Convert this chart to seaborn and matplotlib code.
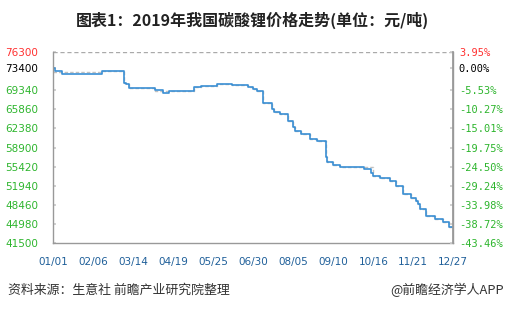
import matplotlib
matplotlib.use("Agg")
import matplotlib.pyplot as plt
import seaborn as sns
import pandas as pd
import numpy as np

sns.set_theme(style="white")
plt.rcParams['font.family'] = ['Noto Sans CJK SC', 'DejaVu Sans']

# ---- data ----
step_days = [0, 1.3, 8, 43.5, 63.6, 65.4, 68, 91.5, 98.5, 104.4, 127, 133, 147, 160.6,
             175.5, 180, 183, 188.5, 196.6, 198.6, 204, 211.5, 216, 217.5, 222.7, 231,
             237, 245, 246.4, 252, 258, 280, 286, 287.5, 294, 303, 308.5, 315, 321.7,
             326.5, 328.5, 330, 335.5, 343.5, 351, 356.5, 360]
price = [73400, 72950, 72350, 72830, 70740, 70450, 69830, 69410, 68800, 69280, 70010,
         70190, 70450, 70270, 69900, 69540, 69280, 66980, 65880, 65440, 65020, 63740,
         62590, 61910, 61370, 60400, 60090, 57220, 56300, 55700, 55330, 54910, 54290,
         53690, 53270, 52770, 51860, 50400, 49610, 49170, 48510, 47600, 46380, 45770,
         45330, 44310, 44310]
ref_price = [72750, 72750, 72750, 72830, 70740, 70450, 69830, 69230, 69230, 69230, 70010,
             70190, 70450, 70270, 69900, 69540, 69280, 66980, 65880, 65440, 65020, 63740,
             62590, 61910, 61370, 60400, 60090, 57220, 56300, 55700, 55330, 55330, 55330,
             53690, 53270, 52770, 51860, 50400, 49610, 49170, 48510, 47600, 46380, 45770,
             45330, 44310, 44310]
base_price = 73400
y_ticks = [41500, 44980, 48460, 51940, 55420, 58900, 62380, 65860, 69340, 73400, 76300]
x_tick_days = [0, 36, 72, 108, 144, 180, 216, 252, 288, 324, 360]
x_tick_labels = ["01/01", "02/06", "03/14", "04/19", "05/25", "06/30",
                 "08/05", "09/10", "10/16", "11/21", "12/27"]

df = pd.DataFrame({"day": step_days, "price": price, "ref": ref_price})

fig = plt.figure(figsize=(5.05, 3.11), dpi=100)
ax = fig.add_axes([0.1056, 0.2196, 0.792, 0.6122])

sns.lineplot(data=df, x="day", y="ref", ax=ax, drawstyle="steps-post",
             color="#c0c0c0", linewidth=1.0, linestyle=(0, (2.5, 1.5)))
sns.lineplot(data=df, x="day", y="price", ax=ax, drawstyle="steps-post",
             color="#3a8fd4", linewidth=1.2)

ax.set_xlim(0, 360)
ax.set_ylim(41500, 76300)
ax.set_xlabel("")
ax.set_ylabel("")

ax.set_yticks(y_ticks)
ax.set_yticklabels([f"{v}" for v in y_ticks], fontsize=7.5, family=['DejaVu Sans'])
green = "#2db52d"
for lbl, v in zip(ax.get_yticklabels(), y_ticks):
    if v > base_price:
        lbl.set_color("#ff3030")
    elif v == base_price:
        lbl.set_color("#000000")
    else:
        lbl.set_color(green)
ax.tick_params(axis='y', direction='in', length=2, color="#cccccc", pad=11)

ax.set_xticks(x_tick_days)
ax.set_xticklabels(x_tick_labels, fontsize=7.5, color="#1f5f99", family=['DejaVu Sans'])
ax.tick_params(axis='x', direction='in', length=2, color="#cccccc", pad=10)

for side in ["left", "right", "bottom"]:
    ax.spines[side].set_color("#999999")
    ax.spines[side].set_linewidth(1.0)
ax.spines["top"].set_visible(False)
ax.axhline(76300, color="#aaaaaa", linewidth=1.0, linestyle=(0, (3, 2)), zorder=1)

ax2 = ax.twinx()
ax2.set_ylim(ax.get_ylim())
ax2.set_yticks(y_ticks)
pct = [(v - base_price) / base_price * 100 for v in y_ticks]
ax2.set_yticklabels([f"{p:.2f}%" for p in pct], fontsize=7.5, family=['DejaVu Sans Mono'])
for lbl, v in zip(ax2.get_yticklabels(), y_ticks):
    if v > base_price:
        lbl.set_color("#ff3030")
    elif v == base_price:
        lbl.set_color("#000000")
    else:
        lbl.set_color(green)
ax2.tick_params(axis='y', direction='in', length=2, color="#cccccc", pad=4)
for side in ["top", "left", "bottom"]:
    ax2.spines[side].set_visible(False)
ax2.spines["right"].set_color("#999999")
ax2.set_ylabel("")

fig.text(0.5, 1 - 20 / 311, "图表1：2019年我国碳酸锂价格走势(单位：元/吨)",
         ha="center", va="center", fontsize=11.5, fontweight="bold", color="#222222")
fig.text(8 / 505, 1 - 290 / 311, "资料来源：生意社 前瞻产业研究院整理",
         ha="left", va="center", fontsize=9.3, color="#333333")
fig.text(504 / 505, 1 - 290 / 311, "@前瞻经济学人APP",
         ha="right", va="center", fontsize=9.3, color="#333333")

fig.savefig("out.png", dpi=100)
